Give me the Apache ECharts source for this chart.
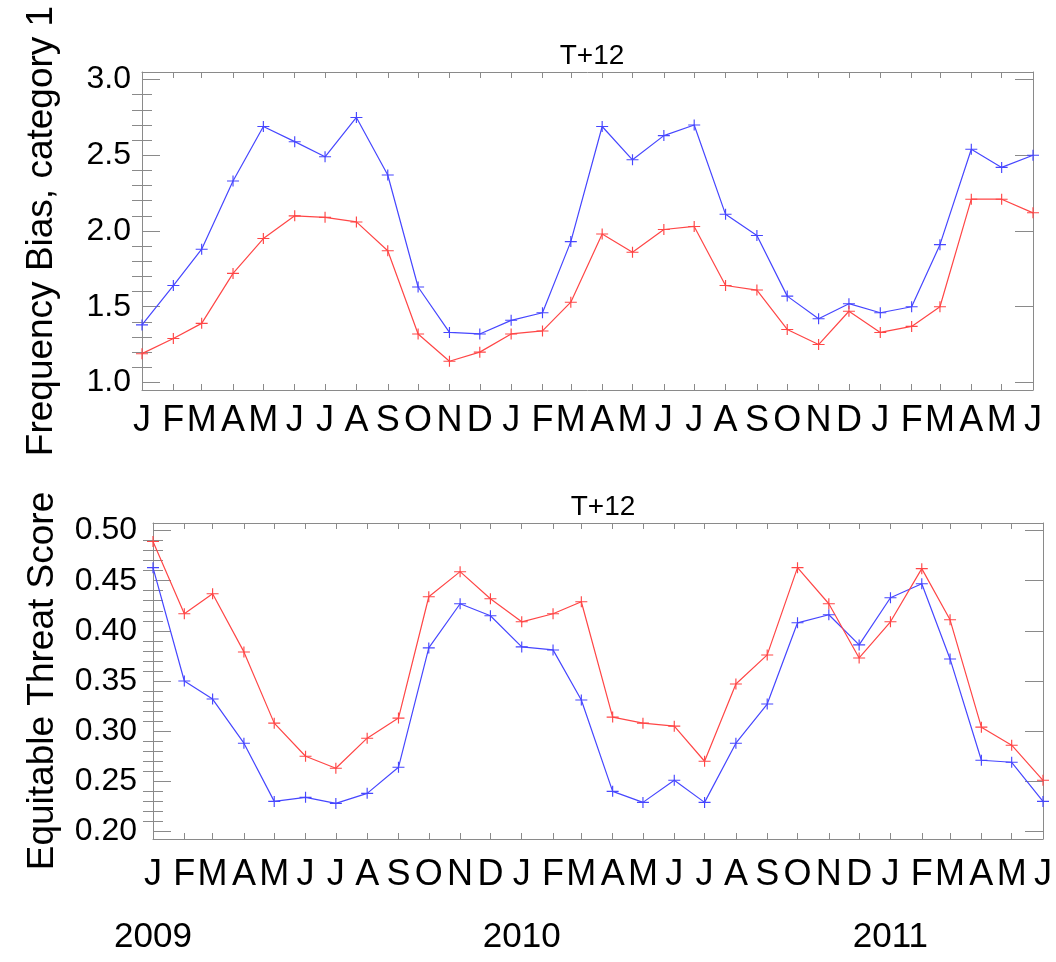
<!DOCTYPE html>
<html>
<head>
<meta charset="utf-8">
<script src="https://cdn.jsdelivr.net/npm/echarts@6/dist/echarts.min.js"></script>
<style>
  html, body { margin: 0; padding: 0; background: #ffffff; }
  #chart { width: 1056px; height: 962px; }
</style>
</head>
<body>
<div id="chart"></div>
<script>
// Monthly verification scores, January 2009 to June 2011 (forecast lead T+12)
const monthDates = [
  '2009-01-01', '2009-02-01', '2009-03-01', '2009-04-01', '2009-05-01', '2009-06-01',
  '2009-07-01', '2009-08-01', '2009-09-01', '2009-10-01', '2009-11-01', '2009-12-01',
  '2010-01-01', '2010-02-01', '2010-03-01', '2010-04-01', '2010-05-01', '2010-06-01',
  '2010-07-01', '2010-08-01', '2010-09-01', '2010-10-01', '2010-11-01', '2010-12-01',
  '2011-01-01', '2011-02-01', '2011-03-01', '2011-04-01', '2011-05-01', '2011-06-01'
];
const monthLetters = ['J', 'F', 'M', 'A', 'M', 'J', 'J', 'A', 'S', 'O', 'N', 'D'];
const yearDates = ['2009-01-01', '2010-01-01', '2011-01-01'];

// Frequency bias, category 1
const biasBlue = [
  1.38, 1.64, 1.88, 2.33, 2.69, 2.59, 2.49, 2.75, 2.37, 1.63, 1.33, 1.32,
  1.41, 1.46, 1.93, 2.69, 2.47, 2.63, 2.70, 2.11, 1.97, 1.57, 1.42, 1.52,
  1.46, 1.50, 1.91, 2.54, 2.42, 2.50
];
const biasRed = [
  1.19, 1.29, 1.39, 1.72, 1.95, 2.10, 2.09, 2.06, 1.87, 1.32, 1.14, 1.20,
  1.32, 1.34, 1.53, 1.98, 1.86, 2.01, 2.03, 1.64, 1.61, 1.35, 1.25, 1.47,
  1.33, 1.37, 1.50, 2.21, 2.21, 2.12
];

// Equitable threat score
const etsBlue = [
  0.463, 0.350, 0.332, 0.288, 0.230, 0.234, 0.228, 0.238, 0.264, 0.383, 0.427, 0.415,
  0.384, 0.381, 0.331, 0.240, 0.229, 0.251, 0.229, 0.288, 0.327, 0.408, 0.416, 0.386,
  0.433, 0.447, 0.372, 0.271, 0.269, 0.230
];
const etsRed = [
  0.489, 0.417, 0.437, 0.379, 0.308, 0.275, 0.263, 0.293, 0.313, 0.434, 0.459, 0.432,
  0.409, 0.417, 0.429, 0.314, 0.308, 0.305, 0.270, 0.347, 0.376, 0.463, 0.427, 0.373,
  0.409, 0.462, 0.411, 0.304, 0.286, 0.251
];

// Axis ticks
const biasTicks = [1.0, 1.5, 2.0, 2.5, 3.0];
const biasMinorTicks = [1.1, 1.2, 1.3, 1.4, 1.6, 1.7, 1.8, 1.9, 2.1, 2.2, 2.3, 2.4, 2.6, 2.7, 2.8, 2.9];
const etsTicks = [0.20, 0.25, 0.30, 0.35, 0.40, 0.45, 0.50];
const etsMinorTicks = [
  0.21, 0.22, 0.23, 0.24, 0.26, 0.27, 0.28, 0.29, 0.31, 0.32, 0.33, 0.34,
  0.36, 0.37, 0.38, 0.39, 0.41, 0.42, 0.43, 0.44, 0.46, 0.47, 0.48, 0.49
];

// Dates become day numbers counted from the first month, so month widths follow the calendar
const DAY = 86400000;
const dayNum = s => Math.round((Date.parse(s + 'T00:00:00Z') - Date.parse(monthDates[0] + 'T00:00:00Z')) / DAY);
const monthDays = monthDates.map(dayNum);
const yearDays = yearDates.map(dayNum);
const xMin = monthDays[0];
const xMax = monthDays[monthDays.length - 1];
const dateOf = d => new Date(Date.parse(monthDates[0] + 'T00:00:00Z') + d * DAY);
const pairs = vals => vals.map((v, i) => [monthDays[i], v]);

const FONT = "'Liberation Sans', Arial, Helvetica, sans-serif";
const FRAME = '#8a8a8a';
const BLUE = '#4646ff';
const RED = '#ff4646';
const PLUS = 'path://M0,5L10,5M5,0L5,10';

function monthAxis(grid, position, withLabels, margin) {
  return {
    type: 'value', gridIndex: grid, position: position, min: xMin, max: xMax,
    axisLine: { show: true, onZero: false, lineStyle: { color: FRAME, width: 1 } },
    axisTick: { show: true, inside: true, length: 6, customValues: monthDays, lineStyle: { color: FRAME, width: 1 } },
    axisLabel: {
      show: withLabels, customValues: monthDays, hideOverlap: false, margin: margin || 13,
      showMinLabel: true, showMaxLabel: true,
      color: '#000', fontFamily: FONT, fontSize: 36,
      formatter: v => monthLetters[dateOf(v).getUTCMonth()]
    },
    splitLine: { show: false }, minorTick: { show: false }
  };
}

function valueAxis(grid, position, min, max, ticks, opts) {
  return Object.assign({
    type: 'value', gridIndex: grid, position: position, min: min, max: max,
    axisLine: { show: true, onZero: false, lineStyle: { color: FRAME, width: 1 } },
    axisTick: { show: true, inside: true, length: 18, customValues: ticks, lineStyle: { color: FRAME, width: 1 } },
    axisLabel: { show: false },
    splitLine: { show: false }, minorTick: { show: false }
  }, opts || {});
}

function minorAxis(grid, position, min, max, ticks) {
  return valueAxis(grid, position, min, max, ticks, {
    axisLine: { show: false },
    axisTick: { show: true, inside: true, length: 10, customValues: ticks, lineStyle: { color: FRAME, width: 1 } }
  });
}

function lineSeries(name, xIdx, yIdx, color, vals) {
  return {
    type: 'line', name: name, xAxisIndex: xIdx, yAxisIndex: yIdx,
    data: pairs(vals),
    symbol: PLUS, symbolSize: [12, 11], symbolKeepAspect: false,
    showAllSymbol: true,
    lineStyle: { color: color, width: 1.2 },
    itemStyle: { color: color, borderColor: color, borderWidth: 1.1 },
    emphasis: { disabled: true },
    animation: false
  };
}

const biasMin = 0.95, biasMax = 3.05;
const etsMin = 0.1925, etsMax = 0.5075;

const option = {
  backgroundColor: '#ffffff',
  animation: false,
  title: [
    { text: 'T+12', left: 587, top: 37, textAlign: 'center',
      textStyle: { fontFamily: FONT, fontSize: 28, fontWeight: 'normal', color: '#000' } },
    { text: 'T+12', left: 598, top: 488, textAlign: 'center',
      textStyle: { fontFamily: FONT, fontSize: 28, fontWeight: 'normal', color: '#000' } }
  ],
  grid: [
    { left: 142, top: 72, width: 891, height: 318, outerBoundsMode: 'none', containLabel: false },
    { left: 153, top: 523, width: 890, height: 316, outerBoundsMode: 'none', containLabel: false }
  ],
  xAxis: [
    monthAxis(0, 'bottom', true, 13),
    monthAxis(0, 'top', false),
    monthAxis(1, 'bottom', true, 18),
    monthAxis(1, 'top', false),
    {
      type: 'value', gridIndex: 1, position: 'bottom', min: xMin, max: xMax,
      axisLine: { show: false }, axisTick: { show: false }, splitLine: { show: false },
      axisLabel: {
        show: true, customValues: yearDays, hideOverlap: false, margin: 81,
        color: '#000', fontFamily: FONT, fontSize: 35,
        formatter: v => String(dateOf(v).getUTCFullYear())
      }
    }
  ],
  yAxis: [
    valueAxis(0, 'left', biasMin, biasMax, biasTicks, {
      name: 'Frequency Bias, category 1', nameLocation: 'middle', nameRotate: 90, nameGap: 82,
      nameMoveOverlap: false,
      nameTextStyle: { fontFamily: FONT, fontSize: 37, color: '#000' },
      axisLabel: { show: true, customValues: biasTicks, margin: 11, color: '#000',
        fontFamily: FONT, fontSize: 32, formatter: v => v.toFixed(1) }
    }),
    minorAxis(0, 'left', biasMin, biasMax, biasMinorTicks),
    valueAxis(0, 'right', biasMin, biasMax, biasTicks),
    minorAxis(0, 'right', biasMin, biasMax, biasMinorTicks),
    valueAxis(1, 'left', etsMin, etsMax, etsTicks, {
      name: 'Equitable Threat Score', nameLocation: 'middle', nameRotate: 90, nameGap: 92,
      nameMoveOverlap: false,
      nameTextStyle: { fontFamily: FONT, fontSize: 37, color: '#000' },
      axisLabel: { show: true, customValues: etsTicks, margin: 16, color: '#000',
        fontFamily: FONT, fontSize: 32, formatter: v => v.toFixed(2) }
    }),
    minorAxis(1, 'left', etsMin, etsMax, etsMinorTicks),
    valueAxis(1, 'right', etsMin, etsMax, etsTicks),
    minorAxis(1, 'right', etsMin, etsMax, etsMinorTicks)
  ],
  series: [
    lineSeries('bias-blue', 0, 0, BLUE, biasBlue),
    lineSeries('bias-red', 0, 0, RED, biasRed),
    lineSeries('ets-blue', 2, 4, BLUE, etsBlue),
    lineSeries('ets-red', 2, 4, RED, etsRed)
  ]
};

const chart = echarts.init(document.getElementById('chart'), null, { renderer: 'canvas' });
chart.setOption(option);
</script>
</body>
</html>
